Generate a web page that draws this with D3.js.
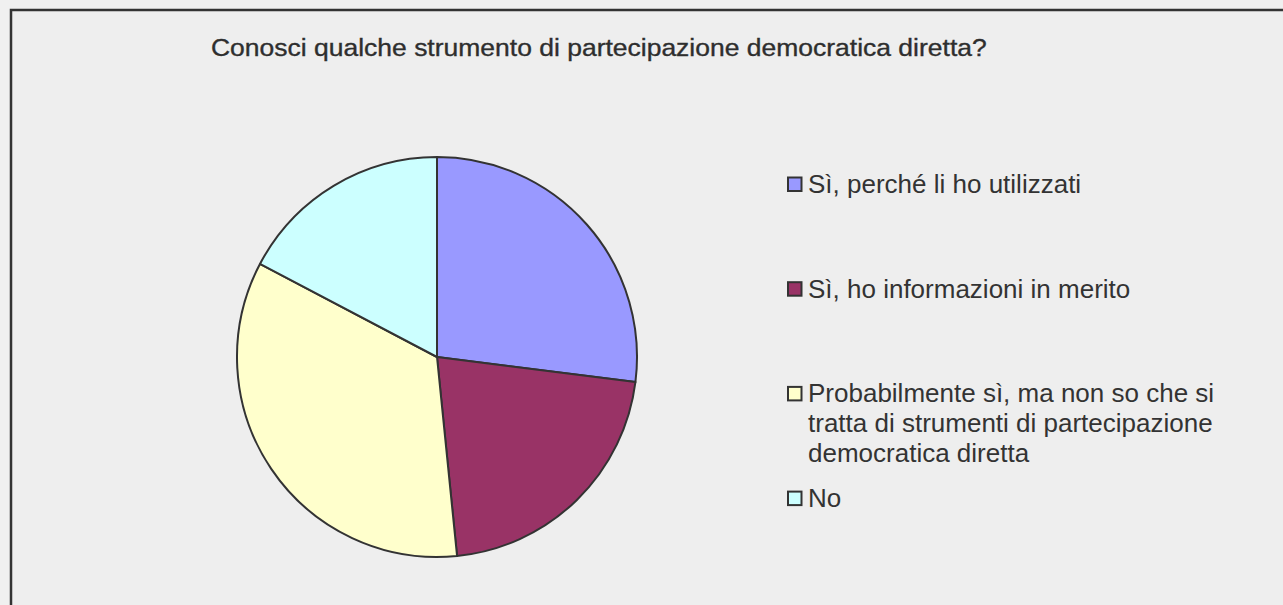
<!DOCTYPE html>
<html>
<head>
<meta charset="utf-8">
<script src="https://cdn.jsdelivr.net/npm/d3@7"></script>
<style>
  body { margin: 0; background: #f0f0f0; }
  svg { display: block; }
</style>
</head>
<body>
<div id="chart"></div>
<script>
// pie data (share of answers)
const categories = [
  'Sì, perché li ho utilizzati',
  'Sì, ho informazioni in merito',
  'Probabilmente sì, ma non so che si tratta di strumenti di partecipazione democratica diretta',
  'No'
];
const values = [27.0, 21.4, 34.3, 17.3];
const colors = ['#9999ff', '#993366', '#ffffcc', '#ccffff'];
// legend text split in lines as in the original
const legendLines = [
  ['Sì, perché li ho utilizzati'],
  ['Sì, ho informazioni in merito'],
  ['Probabilmente sì, ma non so che si', 'tratta di strumenti di partecipazione', 'democratica diretta'],
  ['No']
];
const title = 'Conosci qualche strumento di partecipazione democratica diretta?';

const width = 1283;
const height = 605;

const svg = d3.select('#chart')
  .append('svg')
  .attr('width', width)
  .attr('height', height);

// chart area with dark frame (right and bottom edges run off the page)
svg.append('rect')
  .attr('x', 11)
  .attr('y', 10)
  .attr('width', 1290)
  .attr('height', 620)
  .attr('fill', '#eeeeee')
  .attr('stroke', '#333')
  .attr('stroke-width', 2.5);

// title, fitted to the width it has in the original
const titleText = svg.append('text')
  .attr('font-family', '"Liberation Sans", Arial, sans-serif')
  .attr('font-size', 24)
  .attr('fill', '#2e2e2e')
  .attr('stroke', '#2e2e2e')
  .attr('stroke-width', 0.35)
  .text(title);
const tw = titleText.node().getComputedTextLength();
titleText.attr('transform', `translate(211,56) scale(${776 / tw},1)`);

const pie = d3.pie().sort(null).value(d => d);
const arc = d3.arc().innerRadius(0).outerRadius(200);

const g = svg.append('g').attr('transform', 'translate(437,357)');

g.selectAll('path')
  .data(pie(values))
  .enter().append('path')
  .attr('d', arc)
  .attr('fill', (d, i) => colors[i])
  .attr('stroke', '#333')
  .attr('stroke-width', 2)
  .attr('stroke-linejoin', 'round');

// legend
const legend = svg.append('g');
const item = legend.selectAll('g')
  .data(categories)
  .enter().append('g')
  .attr('transform', (d, i) => `translate(788,${193 + i * 104.7})`);

item.append('rect')
  .attr('x', 0)
  .attr('y', -15.5)
  .attr('width', 13.5)
  .attr('height', 13.5)
  .attr('fill', (d, i) => colors[i])
  .attr('stroke', '#333')
  .attr('stroke-width', 2);

item.append('text')
  .attr('font-family', '"Liberation Sans", Arial, sans-serif')
  .attr('font-size', 26)
  .attr('fill', '#333')
  .selectAll('tspan')
  .data((d, i) => legendLines[i])
  .enter().append('tspan')
  .attr('x', 20)
  .attr('y', (d, j) => j * 30)
  .text(d => d);
</script>
</body>
</html>
